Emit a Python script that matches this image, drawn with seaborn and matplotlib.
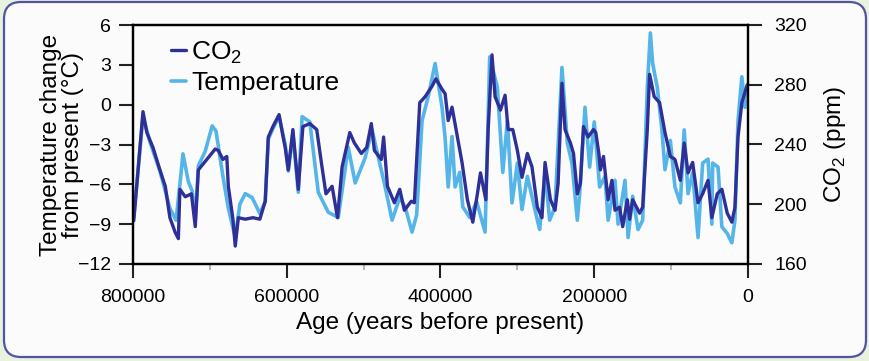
# -*- coding: UTF-8 -*-
# CO2 and temperature over the last 800 000 years
import matplotlib.pyplot as plt
import numpy as np
import pandas as pd
import seaborn as sns
from matplotlib.patches import FancyBboxPatch
from matplotlib.lines import Line2D
from matplotlib.transforms import IdentityTransform
from matplotlib.ticker import MultipleLocator

# data (age in thousand years before present)
co2_age_ka = [799, 787, 782, 774, 765, 758, 752, 745, 741, 739, 732, 724, 719, 715, 704,
              693, 689, 683, 678, 676, 670, 667, 663, 654, 644, 635, 628, 624, 618, 610,
              604, 602, 598, 592, 585, 579, 570, 561, 555, 549, 541, 534, 528, 518, 512,
              503, 496, 490, 486, 477, 474, 469, 460, 453, 447, 438, 434, 427, 420, 411,
              406, 398, 394, 390, 385, 378, 372, 365, 358, 352, 348, 341, 338, 333, 329,
              322, 316, 312, 306, 300, 294, 287, 281, 274, 268, 264, 257, 251, 247, 242,
              238, 231, 227, 222, 218, 214, 208, 201, 198, 194, 192, 188, 182, 177, 173,
              167, 163, 157, 154, 150, 141, 137, 131, 128, 122, 115, 108, 101, 95, 88,
              83, 78, 72, 65, 59, 52, 47, 40, 34, 27, 21, 17, 13, 8, 1]
co2_ppm = [189, 262, 248, 238, 223, 212, 191, 181, 177, 210, 205, 207, 185, 223, 230,
           237, 236, 230, 232, 212, 190, 172, 191, 190, 191, 190, 202, 245, 252, 260,
           243, 238, 223, 250, 210, 252, 254, 250, 228, 207, 212, 191, 225, 248, 241,
           234, 238, 254, 236, 230, 245, 212, 201, 210, 196, 202, 201, 268, 272, 279,
           284, 277, 274, 256, 265, 245, 228, 203, 188, 207, 221, 203, 250, 300, 272,
           263, 273, 250, 250, 236, 218, 234, 225, 198, 191, 228, 203, 196, 214, 281,
           250, 241, 234, 207, 214, 252, 245, 250, 248, 234, 223, 232, 203, 216, 196,
           198, 185, 203, 190, 203, 194, 198, 250, 287, 272, 268, 248, 232, 230, 216,
           241, 221, 228, 201, 207, 216, 191, 207, 210, 194, 188, 198, 245, 268, 280]

temp_age_ka = [799, 787, 778, 765, 752, 744, 739, 735, 728, 723, 719, 715, 706, 697, 692,
               683, 676, 667, 661, 654, 645, 635, 628, 624, 618, 610, 602, 598, 592, 585,
               580, 570, 559, 546, 533, 520, 511, 498, 489, 472, 463, 453, 446, 437, 431,
               424, 416, 407, 398, 394, 390, 385, 381, 375, 371, 362, 353, 342, 336, 326,
               319, 313, 307, 300, 294, 287, 274, 271, 264, 258, 251, 242, 235, 229, 222,
               219, 212, 206, 200, 193, 186, 182, 173, 169, 160, 156, 150, 143, 137, 131,
               127, 124, 118, 112, 108, 101, 95, 88, 83, 78, 72, 65, 59, 52, 47,
               46, 39, 34, 27, 21, 17, 13, 8, 4, 1]
temp_c = [-8.5, -0.9, -2.8, -5.0, -7.8, -8.7, -6.0, -3.7, -5.8, -6.5, -8.7, -4.6, -3.5, -1.6, -2.0,
          -5.4, -7.8, -10.0, -7.5, -6.7, -7.0, -8.2, -7.3, -2.6, -1.8, -0.9, -3.0, -5.0, -2.2, -6.6,
          -0.9, -1.3, -6.6, -8.1, -8.5, -3.2, -5.9, -4.0, -1.9, -6.2, -8.7, -7.0, -7.7, -9.6, -8.3,
          -1.2, 0.6, 3.1, -0.2, -2.5, -6.2, -2.4, -6.2, -5.1, -7.7, -8.5, -7.3, -9.6, 3.6, 1.3,
          -5.1, -1.2, -7.4, -4.4, -7.9, -5.4, -8.7, -9.4, -5.1, -8.7, -7.7, 2.8, -2.9, -4.4, -8.7,
          -6.7, -0.2, -4.7, -1.3, -6.2, -5.4, -8.7, -5.7, -9.0, -5.7, -10.0, -6.9, -9.4, -8.7, 1.3,
          5.4, 3.1, 1.3, -1.9, -4.9, -2.7, -6.2, -7.4, -1.9, -6.7, -5.1, -10.0, -4.4, -4.1, -9.0,
          -4.4, -4.7, -9.2, -9.7, -10.4, -8.7, -1.2, 2.1, -0.2, 1.3]

co2_df = pd.DataFrame({"age": np.array(co2_age_ka) * 1000, "co2": co2_ppm})
temp_df = pd.DataFrame({"age": np.array(temp_age_ka) * 1000, "temp": temp_c})

dark = '#2f2f98'
light = '#55b5e8'

sns.set_style("ticks")
plt.rcParams['font.family'] = ['Liberation Sans', 'DejaVu Sans']
plt.rcParams['mathtext.fontset'] = 'custom'
plt.rcParams['mathtext.rm'] = 'Liberation Sans'
plt.rcParams['text.color'] = 'black'
plt.rcParams['axes.labelcolor'] = 'black'
plt.rcParams['xtick.color'] = 'black'
plt.rcParams['ytick.color'] = 'black'

fig = plt.figure(figsize=(8.7, 3.61), dpi=100, facecolor='#e9f2dc')
# rounded panel behind the chart
panel = FancyBboxPatch((4, 4), 862, 355, boxstyle="round,pad=0,rounding_size=17",
                       transform=IdentityTransform(), facecolor='#fbfbfb',
                       edgecolor='#5252a8', linewidth=1.6, zorder=-10)
fig.patches.append(panel)

ax = fig.add_axes([133/870, 1 - 264/361, 615/870, 239/361])
ax.set_facecolor('#fbfbfb')
sns.lineplot(data=temp_df, x="age", y="temp", ax=ax, color=light, lw=2.6, sort=False)
ax2 = ax.twinx()
sns.lineplot(data=co2_df, x="age", y="co2", ax=ax2, color=dark, lw=2.4, sort=False)

ax.set_xlim(800000, 0)
ax.set_ylim(-12, 6)
ax2.set_ylim(160, 320)
ax.set_xticks([800000, 600000, 400000, 200000, 0])
ax.set_xticklabels(['800000', '600000', '400000', '200000', '0'])
ax.xaxis.set_minor_locator(MultipleLocator(100000))
ax.set_yticks(range(-12, 7, 3))
ax2.set_yticks(range(160, 321, 40))

for a in (ax, ax2):
    for s in a.spines.values():
        s.set_linewidth(1.6)
        s.set_color('black')
ax.tick_params(axis='both', which='major', length=10, width=1.5, labelsize=14,
               color='#222222', labelcolor='black')
ax.tick_params(axis='y', pad=6)
ax.tick_params(axis='x', pad=8)
ax.tick_params(axis='x', which='minor', length=4, width=1.2, color='#aaaaaa')
ax2.tick_params(axis='y', length=10, width=1.5, labelsize=14, pad=9,
                color='#222222', labelcolor='black')

ax.set_xlabel("Age (years before present)", fontsize=17.5, labelpad=4)
ax.set_ylabel("Temperature change\nfrom present (°C)", fontsize=17.5, linespacing=1.0)
ax.yaxis.set_label_coords(-0.08, 0.5)
ax2.set_ylabel(r"CO$_\mathregular{2}$ (ppm)", fontsize=17.5)
ax2.yaxis.set_label_coords(1.12, 0.5)

handles = [Line2D([], [], color=dark, lw=2.4), Line2D([], [], color=light, lw=2.6)]
ax.legend(handles, [r"CO$_\mathregular{2}$", "Temperature"], loc='upper left',
          bbox_to_anchor=(0.045, 0.985), frameon=False, fontsize=19,
          handlelength=0.55, handletextpad=0.2, labelspacing=0.2, borderaxespad=0)

fig.savefig('out.png', dpi=100, facecolor=fig.get_facecolor())
